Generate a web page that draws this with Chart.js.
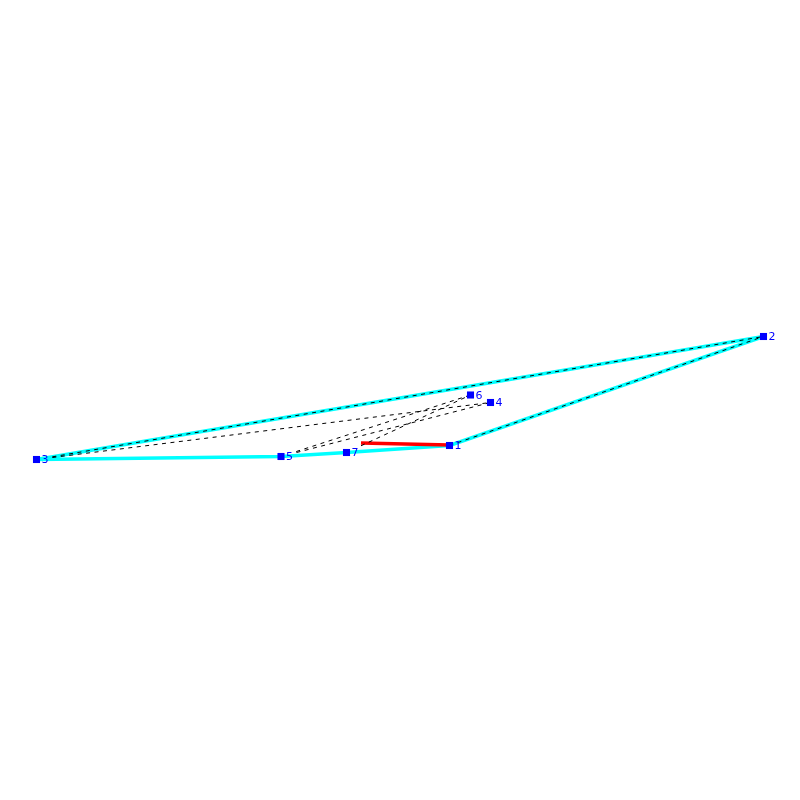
<!DOCTYPE html>
<html>
<head>
<meta charset="utf-8">
<script src="https://cdn.jsdelivr.net/npm/chart.js@4"></script>
<style>
  html, body { margin: 0; padding: 0; background: #fff; }
  canvas { display: block; }
</style>
</head>
<body>
<canvas id="graph" width="800" height="800"></canvas>
<script>
const nodeNames = ['1', '2', '3', '4', '5', '6', '7']
const nodeX = [449.5, 763.5, 36.5, 490.5, 281, 470.5, 346.5]
const nodeY = [445.5, 336.5, 459.5, 402.5, 456.5, 395, 452.5]

// order the nodes are joined in, by name
const cyanPath = ['1', '2', '3', '5', '7', '1']
const dashedEdges = [['1', '2']]
// these dashed edges leave a blank stretch next to their first node
const gappedEdges = [['3', '2'], ['3', '4'], ['5', '6'], ['5', '4'], ['7', '6']]
const redX = [361, 449.5]
const redY = [443, 445]

const at = name => {
  const i = nodeNames.indexOf(name)
  return { x: nodeX[i], y: nodeY[i] }
}

const dash = [4, 4.5]
const gappedDash = [0, 16]
for (let i = 0; i < 200; i++) gappedDash.push(...dash)

const dashedLine = (edge, pattern) => ({
  data: edge.map(at), showLine: true, borderColor: '#000000', borderWidth: 1, borderDash: pattern, pointRadius: 0, order: 1
})

const datasets = [
  { data: nodeX.map((x, i) => ({ x, y: nodeY[i] })), showLine: false, pointStyle: 'rect', pointRadius: 5, pointBackgroundColor: '#0000ff', pointBorderWidth: 0, order: 0 },
  { data: redX.map((x, i) => ({ x, y: redY[i] })), showLine: true, borderColor: '#ff0000', borderWidth: 3.5, pointRadius: 0, order: 2 },
  { data: cyanPath.map(at), showLine: true, borderColor: '#00ffff', borderWidth: 3.5, pointRadius: 0, order: 3 }
]
dashedEdges.forEach(e => datasets.push(dashedLine(e, dash)))
gappedEdges.forEach(e => datasets.push(dashedLine(e, gappedDash)))

// node numbers sit just right of each square
const nodeLabels = {
  id: 'nodeLabels',
  afterDatasetsDraw(chart) {
    const { ctx, scales } = chart
    ctx.save()
    ctx.fillStyle = '#0000ff'
    ctx.font = '11px "DejaVu Sans"'
    ctx.textBaseline = 'middle'
    nodeNames.forEach((n, i) => {
      ctx.fillText(n, scales.x.getPixelForValue(nodeX[i]) + 5, scales.y.getPixelForValue(nodeY[i]) + 1)
    })
    ctx.restore()
  }
}

new Chart(document.getElementById('graph'), {
  type: 'scatter',
  data: { datasets },
  plugins: [nodeLabels],
  options: {
    responsive: false,
    animation: false,
    layout: { padding: 0, autoPadding: false },
    plugins: { legend: { display: false }, tooltip: { enabled: false } },
    scales: {
      x: { type: 'linear', display: false, min: 0, max: 800 },
      y: { type: 'linear', display: false, min: 0, max: 800, reverse: true }
    }
  }
})
</script>
</body>
</html>
